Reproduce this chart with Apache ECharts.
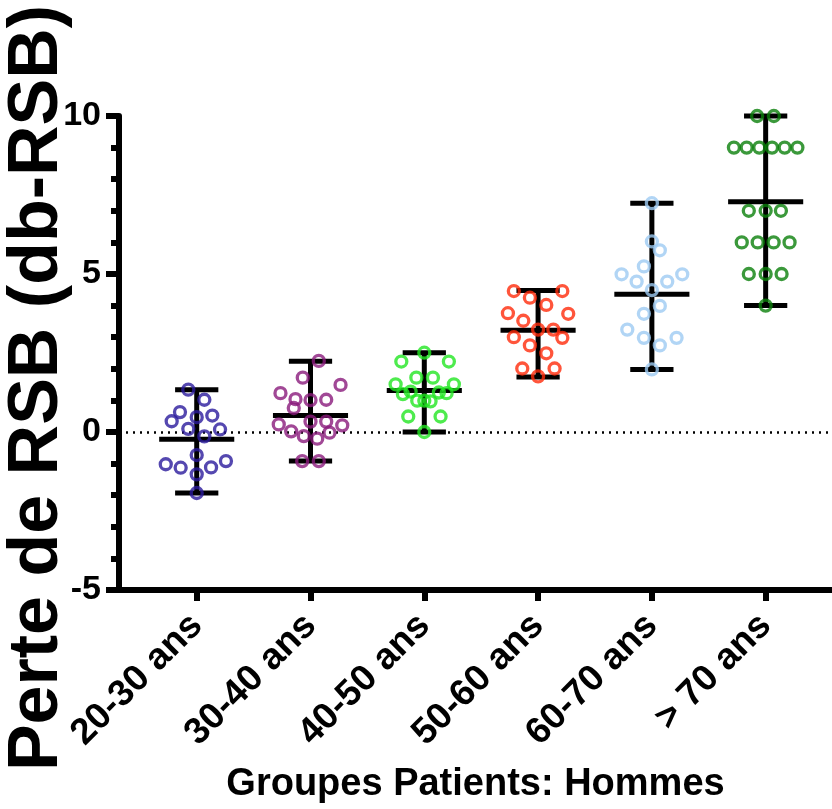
<!DOCTYPE html>
<html>
<head>
<meta charset="utf-8">
<script src="https://cdn.jsdelivr.net/npm/echarts@6/dist/echarts.min.js"></script>
<style>
  html, body { margin: 0; padding: 0; background: #fff; }
  #chart { width: 832px; height: 809px; }
</style>
</head>
<body>
<div id="chart"></div>
<script>
const categories = ["20-30 ans", "30-40 ans", "40-50 ans", "50-60 ans", "60-70 ans", "> 70 ans"];
const colors = ["#2a1a9c", "#8a1a7c", "#22e622", "#ff2a0a", "#9ecbf3", "#0a7f0a"];

// [horizontal jitter, value] per group
const g2030 = [[-0.074, 1.34], [0.067, 1.02], [-0.147, 0.63], [-0.22, 0.34], [0, 0.47], [0.137, 0.52],
  [-0.074, 0.10], [0.205, 0.08], [0.067, -0.14], [0, -0.73], [-0.272, -1.02], [-0.141, -1.13],
  [0.126, -1.12], [0.257, -0.92], [0, -1.34], [0, -1.93]];
const g3040 = [[0.073, 2.25], [-0.068, 1.72], [0.264, 1.49], [-0.264, 1.23], [-0.132, 1.04], [0, 1.01],
  [0.138, 1.02], [-0.147, 0.76], [0, 0.33], [0.138, 0.33], [-0.279, 0.24], [0.279, 0.21],
  [-0.17, 0.02], [0.167, -0.02], [-0.059, -0.13], [0.059, -0.21], [-0.073, -0.92], [0.073, -0.92]];
const g4050 = [[0, 2.51], [-0.202, 2.23], [0.216, 2.23], [-0.07, 1.72], [0.076, 1.72], [-0.252, 1.51],
  [0.26, 1.51], [-0.188, 1.20], [-0.12, 1.28], [0.128, 1.25], [0.196, 1.23], [-0.062, 0.99],
  [0, 0.99], [0.055, 0.97], [-0.141, 0.49], [0.143, 0.49], [0, 0]];
const g5060 = [[-0.213, 4.46], [0.213, 4.46], [-0.072, 4.25], [0.072, 4.02], [-0.265, 3.76], [0.265, 3.74],
  [-0.13, 3.52], [0, 3.24], [0.134, 3.24], [-0.213, 3.00], [0.213, 2.98], [-0.072, 2.74],
  [0.072, 2.49], [-0.139, 2.01], [0.145, 2.01], [0, 1.76]];
const g6070 = [[0, 7.24], [0, 6.03], [0.07, 5.75], [-0.07, 5.24], [-0.266, 4.99], [0.267, 4.99],
  [-0.134, 4.76], [0.135, 4.76], [0, 4.49], [0.07, 3.99], [-0.07, 3.74], [-0.216, 3.24],
  [-0.07, 2.98], [0.217, 2.98], [0.07, 2.74], [0, 1.98]];
const g70 = [[-0.075, 10], [0.072, 10], [-0.279, 9], [-0.167, 9], [-0.056, 9], [0.056, 9], [0.167, 9],
  [0.279, 9], [-0.148, 7], [0, 7], [0.134, 7], [-0.21, 6], [-0.07, 6], [0.07, 6], [0.21, 6],
  [-0.148, 5], [0, 5], [0.14, 5], [0, 4]];
const groups = [g2030, g3040, g4050, g5060, g6070, g70];

const means = [-0.23, 0.52, 1.31, 3.22, 4.36, 7.29];
const lows = [-1.93, -0.92, 0, 1.74, 1.98, 4];
const highs = [1.34, 2.24, 2.51, 4.48, 7.24, 10];

const yTicks = [-5, 0, 5, 10];

const FONT = "Liberation Sans";
const chart = echarts.init(document.getElementById("chart"));

const barData = categories.map((c, i) => [i, lows[i], highs[i], means[i]]);

function renderBar(params, api) {
  const x = api.value(0), lo = api.value(1), hi = api.value(2), m = api.value(3);
  const seg = (a, b) => ({
    type: "line",
    shape: { x1: a[0], y1: a[1], x2: b[0], y2: b[1] },
    style: { stroke: "#000", lineWidth: 5, lineCap: "butt" },
  });
  return {
    type: "group",
    children: [
      seg(api.coord([x, lo]), api.coord([x, hi])),
      seg(api.coord([x - 0.19, hi]), api.coord([x + 0.19, hi])),
      seg(api.coord([x - 0.19, lo]), api.coord([x + 0.19, lo])),
      seg(api.coord([x - 0.33, m]), api.coord([x + 0.33, m])),
    ],
  };
}

const scatterSeries = groups.map((g, i) => ({
  type: "scatter",
  name: categories[i],
  data: g.map((p) => [i + p[0], p[1]]),
  symbol: "circle",
  symbolSize: 11,
  itemStyle: { color: "rgba(0,0,0,0)", borderColor: colors[i], borderWidth: 3.3 },
  emphasis: { disabled: true },
  z: 5,
}));

scatterSeries[0].markLine = {
  silent: true,
  symbol: "none",
  label: { show: false },
  lineStyle: { type: [2, 5], color: "#000", width: 2.5 },
  data: [{ yAxis: 0 }],
  z: 1,
};

chart.setOption({
  animation: false,
  grid: { left: 119, right: 0, top: 116, bottom: 213, containLabel: false },
  xAxis: {
    type: "value",
    min: -0.683,
    max: 5.583,
    splitLine: { show: false },
    axisLine: { onZero: false, lineStyle: { color: "#000", width: 6 } },
    axisTick: { customValues: [0, 1, 2, 3, 4, 5], length: 11, lineStyle: { color: "#000", width: 6 } },
    axisLabel: {
      customValues: [0, 1, 2, 3, 4, 5],
      formatter: (v) => categories[Math.round(v)],
      rotate: 45,
      margin: 30,
      color: "#000",
      fontFamily: FONT,
      fontWeight: "bold",
      fontSize: 37,
    },
    name: "Groupes Patients: Hommes",
    nameLocation: "middle",
    nameGap: 176,
    nameTextStyle: { color: "#000", fontFamily: FONT, fontWeight: "bold", fontSize: 38 },
  },
  yAxis: {
    type: "value",
    min: -5,
    max: 10,
    interval: 5,
    splitLine: { show: false },
    axisLine: { onZero: false, lineStyle: { color: "#000", width: 6 } },
    axisTick: { length: 13, lineStyle: { color: "#000", width: 6 } },
    minorTick: { show: true, splitNumber: 5, length: 8, lineStyle: { color: "#000", width: 6 } },
    axisLabel: {
      customValues: yTicks,
      margin: 18,
      color: "#000",
      fontFamily: FONT,
      fontWeight: "bold",
      fontSize: 34,
    },
  },
  graphic: [
    {
      type: "text",
      x: 38,
      y: 388,
      rotation: Math.PI / 2,
      style: {
        text: "Perte de RSB (db-RSB)",
        font: 'bold 70px "Liberation Sans"',
        fill: "#000",
        textAlign: "center",
        textVerticalAlign: "middle",
      },
    },
  ],
  series: [
    {
      type: "custom",
      name: "range",
      data: barData,
      renderItem: renderBar,
      silent: true,
      z: 3,
    },
    ...scatterSeries,
  ],
});
</script>
</body>
</html>
